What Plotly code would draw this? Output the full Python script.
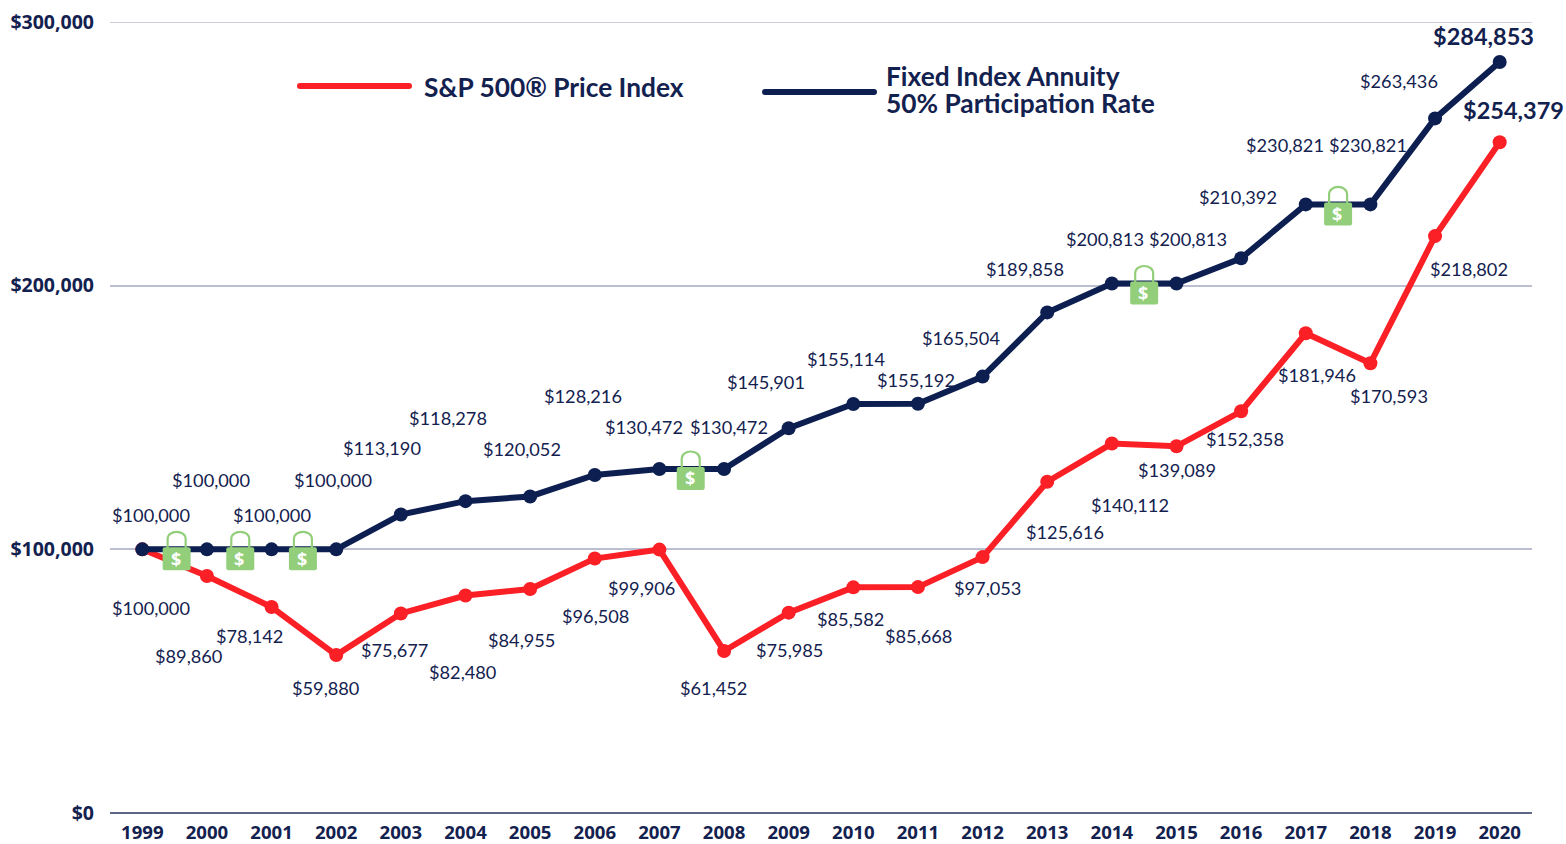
import plotly.graph_objects as go

years = list(range(1999, 2021))
fia_values = [100000, 100000, 100000, 100000, 113190, 118278, 120052, 128216, 130472, 130472, 145901,
              155114, 155192, 165504, 189858, 200813, 200813, 210392, 230821, 230821, 263436, 284853]
sp_values = [100000, 89860, 78142, 59880, 75677, 82480, 84955, 96508, 99906, 61452, 75985,
             85582, 85668, 97053, 125616, 140112, 139089, 152358, 181946, 170593, 218802, 254379]
y_ticks = [0, 100000, 200000, 300000]
y_tick_labels = ["$0", "$100,000", "$200,000", "$300,000"]
lock_years = [1999.5, 2000.5, 2001.5, 2007.5, 2014.5, 2017.5]
lock_values = [100000, 100000, 100000, 130472, 200813, 230821]

# label offsets from their points, in pixels (right, down)
fia_offsets = [(9, -34), (5, -69), (1, -34), (-3, -69), (-18, -67), (-17, -83), (-7, -47), (-11, -79),
               (-15, -42), (6, -42), (-22, -46), (-7, -45), (-1, -24), (-21, -39), (-22, -43), (-6, -45),
               (12, -45), (-2, -61), (-20, -59), (-2, -59), (-35, -37), (-15, -26)]
sp_offsets = [(9, 59), (-18, 80), (-21, 29), (-10, 33), (-6, 37), (-2, 76), (-8, 51), (1, 57),
              (-17, 38), (-10, 37), (2, 37), (-2, 32), (1, 49), (6, 31), (18, 50), (19, 61),
              (1, 24), (5, 28), (12, 42), (19, 33), (35, 33), (15, -32)]
lock_shift = [2, 1, -1, -1, 0, 0]

NAVY = "#0c1f50"
TEXT = "#13214f"
RED = "#fb1f26"
GREEN = "#93cf7b"
GRID = "#bcbfd2"
W, H = 1566, 844
L, R, T, B = 110, 34, 22, 31
LATO = "Lato"
LINE_W = 6
MARKER = 14

fig = go.Figure()
for name, vals, col in [("S&P 500® Price Index", sp_values, RED),
                        ("Fixed Index Annuity 50% Participation Rate", fia_values, NAVY)]:
    fig.add_trace(go.Scatter(x=years, y=vals, name=name, mode="lines+markers",
                             line=dict(color=col, width=LINE_W),
                             marker=dict(color=col, size=MARKER), showlegend=False, cliponaxis=False))


def money(v):
    return f"${v:,}"


annotations = []
for vals, offs in [(fia_values, fia_offsets), (sp_values, sp_offsets)]:
    for i, (yr, v, (dx, dy)) in enumerate(zip(years, vals, offs)):
        last = i == len(years) - 1
        annotations.append(dict(x=yr, y=v, text=f"<b>{money(v)}</b>" if last else money(v),
                                showarrow=False, xshift=dx - 0.7, yshift=-dy,
                                font=dict(family=LATO, size=23.5 if last else 18.2, color=TEXT)))

shapes = [dict(type="line", xref="paper", yref="y", x0=0, x1=1, y0=y_ticks[-1], y1=y_ticks[-1],
               line=dict(color=GRID, width=1.5), layer="below")]
for yr, v, s in zip(lock_years, lock_values, lock_shift):
    common = dict(type="path", xref="x", yref="y", xsizemode="pixel", ysizemode="pixel",
                  xanchor=yr, yanchor=v, layer="above")
    bx0, bx1 = s - 14, s + 14
    shapes.append(dict(common, line=dict(color=GREEN, width=2.2), fillcolor="rgba(0,0,0,0)",
                       path=f"M {s-9},-2 L {s-9},10 C {s-9},20 {s+9},20 {s+9},10 L {s+9},-2"))
    shapes.append(dict(common, line=dict(width=0), fillcolor=GREEN,
                       path=f"M {bx0+2},2 L {bx1-2},2 Q {bx1},2 {bx1},0 L {bx1},-19 Q {bx1},-21 {bx1-2},-21 "
                            f"L {bx0+2},-21 Q {bx0},-21 {bx0},-19 L {bx0},0 Q {bx0},2 {bx0+2},2 Z"))
    annotations.append(dict(x=yr, y=v, text="<b>$</b>", showarrow=False, xshift=s - 1, yshift=-9.5,
                            font=dict(family="Open Sans", size=18, color="white")))


def px(x):
    return (x - L) / (W - L - R)


def py(y):
    return 1 - (y - T) / (H - T - B)


for x0, x1, y, col in [(300, 409, 86, RED), (765, 874, 92, NAVY)]:
    r = 3
    shapes.append(dict(type="path", xref="paper", yref="paper", layer="above", fillcolor=col, line=dict(width=0),
                       path=f"M {px(x0)},{py(y-r)} L {px(x1)},{py(y-r)} "
                            f"Q {px(x1+r)},{py(y-r)} {px(x1+r)},{py(y)} Q {px(x1+r)},{py(y+r)} {px(x1)},{py(y+r)} "
                            f"L {px(x0)},{py(y+r)} "
                            f"Q {px(x0-r)},{py(y+r)} {px(x0-r)},{py(y)} Q {px(x0-r)},{py(y-r)} {px(x0)},{py(y-r)} Z"))
for x, y, t in [(424, 87, "S&P 500® Price Index"), (886, 76, "Fixed Index Annuity"),
                (886, 103, "50% Participation Rate")]:
    annotations.append(dict(xref="paper", yref="paper", x=px(x), y=py(y), xanchor="left", yanchor="middle",
                            xshift=-2, text=f"<b>{t}</b>", showarrow=False,
                            font=dict(family=LATO, size=26.3, color=TEXT)))

fig.update_layout(
    width=W, height=H, autosize=False, paper_bgcolor="white", plot_bgcolor="white",
    margin=dict(l=L, r=R, t=T, b=B, autoexpand=False), showlegend=False,
    annotations=annotations, shapes=shapes,
    xaxis=dict(range=[1998.5, 2020.5], tickmode="array", tickvals=years, ticktext=[str(y) for y in years],
               automargin=False, showgrid=False, zeroline=False, showline=False, ticks="", ticklabelstandoff=6,
               ticklabeloverflow="allow",
               tickfont=dict(family="Open Sans", size=18.6, color=TEXT, weight="bold")),
    yaxis=dict(range=[0, 300000], tickmode="array", tickvals=y_ticks, ticktext=y_tick_labels,
               automargin=False, showgrid=True, gridcolor=GRID, gridwidth=1.5, zeroline=True,
               zerolinecolor="#5f6786", zerolinewidth=2, showline=False, ticks="", ticklabelstandoff=15,
               ticklabeloverflow="allow",
               tickfont=dict(family="Open Sans", size=19.5, color=TEXT, weight="bold")),
)
fig.write_html(
    "out.html",
    config=dict(displayModeBar=False),
    post_script="document.body.style.margin='0';document.documentElement.style.overflow='hidden';"
                "var s=document.createElement('style');s.textContent='text{font-variant-ligatures:none}';"
                "document.head.appendChild(s);",
)
